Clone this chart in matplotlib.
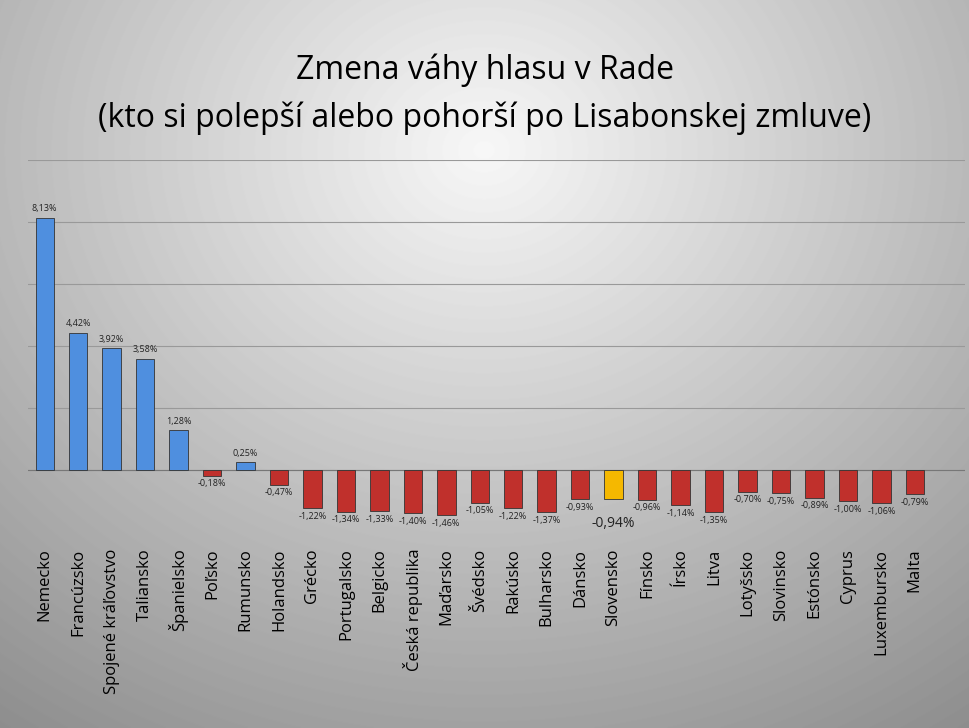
import matplotlib.pyplot as plt
import numpy as np

countries = ['Nemecko', 'Francúzsko', 'Spojené kráľovstvo', 'Taliansko', 'Španielsko', 'Poľsko',
             'Rumunsko', 'Holandsko', 'Grécko', 'Portugalsko', 'Belgicko', 'Česká republika',
             'Maďarsko', 'Švédsko', 'Rakúsko', 'Bulharsko', 'Dánsko', 'Slovensko', 'Fínsko',
             'Írsko', 'Litva', 'Lotyšsko', 'Slovinsko', 'Estónsko', 'Cyprus', 'Luxembursko', 'Malta']
values = [8.13, 4.42, 3.92, 3.58, 1.28, -0.18, 0.25, -0.47, -1.22, -1.34, -1.33, -1.40,
          -1.46, -1.05, -1.22, -1.37, -0.93, -0.94, -0.96, -1.14, -1.35, -0.70, -0.75,
          -0.89, -1.00, -1.06, -0.79]
highlight = 'Slovensko'

plt.rcParams['font.family'] = ['Open Sans', 'DejaVu Sans']
fig = plt.figure(figsize=(9.69, 7.28), dpi=100)

# radial gray background
bg = fig.add_axes([0, 0, 1, 1], zorder=-1)
yy, xx = np.mgrid[0:728, 0:969]
r = np.sqrt(((xx - 484) / 700) ** 2 + ((yy - 150) / 600) ** 2)
bg.imshow(np.clip(0.97 - 0.35 * r, 0.55, 1), cmap='gray', vmin=0, vmax=1, aspect='auto')
bg.axis('off')

ax = fig.add_axes([28 / 969, 1 - 532 / 728, 937 / 969, 372 / 728])
ax.patch.set_alpha(0)
x = np.arange(len(countries))
colors = []
for c, v in zip(countries, values):
    if c == highlight:
        colors.append('#f5b800')
    elif v >= 0:
        colors.append('#4f8fdf')
    else:
        colors.append('#c0302c')
ax.bar(x, values, width=0.55, color=colors, edgecolor='#333333', linewidth=0.6, zorder=3)

for xi, c, v in zip(x, countries, values):
    lab = f'{v:.2f}'.replace('.', ',') + '%'
    if c == highlight:
        ax.text(xi, v - 0.55, lab, ha='center', va='top', fontsize=10, color='#222222')
    elif v >= 0:
        ax.text(xi, v + 0.15, lab, ha='center', va='bottom', fontsize=6.5, color='#222222')
    else:
        ax.text(xi, v - 0.12, lab, ha='center', va='top', fontsize=6.5, color='#222222')

ax.set_xlim(-0.5, 27.5)
ax.set_ylim(-2, 10)
ax.set_yticks([0, 2, 4, 6, 8, 10])
ax.yaxis.grid(True, color='#999999', linewidth=0.8, zorder=0)
ax.tick_params(axis='y', length=0, labelleft=False)
ax.tick_params(axis='x', length=0, pad=12)
ax.set_xticks(x)
ax.set_xticklabels(countries, rotation=90, fontsize=12)
for s in ['top', 'right', 'left', 'bottom']:
    ax.spines[s].set_visible(False)
ax.axhline(0, color='#777777', linewidth=0.8, zorder=2)

fig.text(0.5, 1 - 70 / 728, 'Zmena váhy hlasu v Rade', ha='center', va='center', fontsize=23)
fig.text(0.5, 1 - 118 / 728, '(kto si polepší alebo pohorší po Lisabonskej zmluve)',
         ha='center', va='center', fontsize=23)

fig.savefig('out.png', dpi=100)
